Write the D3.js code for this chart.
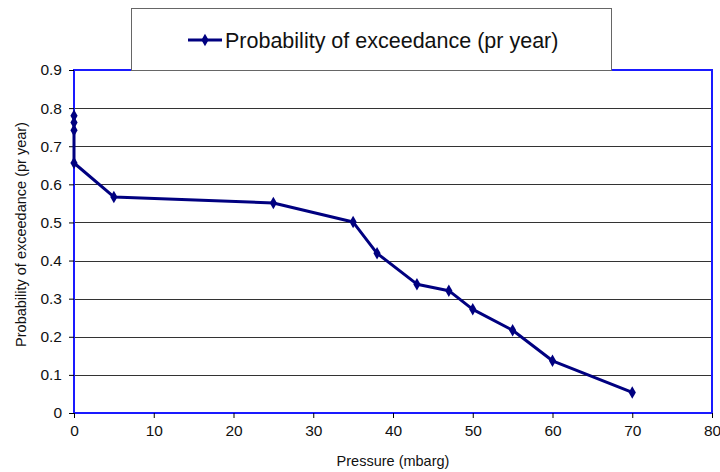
<!DOCTYPE html>
<html>
<head>
<meta charset="utf-8">
<script src="https://cdn.jsdelivr.net/npm/d3@7"></script>
<style>
  html, body { margin: 0; padding: 0; background: #fff; }
  svg { display: block; font-family: Arial, "Liberation Sans", sans-serif; }
</style>
</head>
<body>
<div id="chart"></div>
<script>
// data
const pressure = [0, 0, 0, 0, 5, 25, 35, 38, 43, 47, 50, 55, 60, 70];
const probability = [0.780, 0.762, 0.742, 0.656, 0.567, 0.551, 0.501, 0.419, 0.338, 0.321, 0.272, 0.217, 0.137, 0.054];
const xTicks = [0, 10, 20, 30, 40, 50, 60, 70, 80];
const yTicks = [0, 0.1, 0.2, 0.3, 0.4, 0.5, 0.6, 0.7, 0.8, 0.9];
const seriesName = 'Probability of exceedance (pr year)';
const xTitle = 'Pressure (mbarg)';
const yTitle = 'Probability of exceedance (pr year)';

const width = 720;
const height = 472;
const marginLeft = 74;
const marginRight = 8;
const marginTop = 70;
const marginBottom = 59;
const lineColor = '#000080';
const tickFont = 15.5;

const svg = d3.select('#chart')
  .append('svg')
  .attr('width', width)
  .attr('height', height)
  .attr('viewBox', `0 0 ${width} ${height}`);

const x = d3.scaleLinear()
  .domain([0, 80])
  .range([marginLeft, width - marginRight]);

const y = d3.scaleLinear()
  .domain([0, 0.9])
  .range([height - marginBottom, marginTop]);

// gridlines
svg.append('g')
  .selectAll('line')
  .data(yTicks.filter(d => d > 0 && d < 0.9))
  .enter().append('line')
  .attr('x1', x(0))
  .attr('x2', x(80))
  .attr('y1', d => Math.round(y(d)) + 0.5)
  .attr('y2', d => Math.round(y(d)) + 0.5)
  .attr('stroke', '#333')
  .attr('stroke-width', 1);

// plot border (blue, like the spreadsheet)
svg.append('rect')
  .attr('x', x(0))
  .attr('y', y(0.9))
  .attr('width', x(80) - x(0))
  .attr('height', y(0) - y(0.9))
  .attr('fill', 'none')
  .attr('stroke', '#1a1aff')
  .attr('stroke-width', 2);

// axes
svg.append('g')
  .attr('transform', `translate(0,${y(0)})`)
  .call(d3.axisBottom(x).tickValues(xTicks).tickSize(5).tickPadding(7).tickFormat(d3.format('d')))
  .call(g => g.select('.domain').remove())
  .call(g => g.selectAll('.tick line').attr('stroke', '#000'))
  .call(g => g.selectAll('.tick text').attr('font-size', tickFont).attr('fill', '#111').attr('font-family', 'Arial, "Liberation Sans", sans-serif'));

svg.append('g')
  .attr('transform', `translate(${x(0)},0)`)
  .call(d3.axisLeft(y).tickValues(yTicks).tickSize(5).tickPadding(7).tickFormat(d => d === 0 ? '0' : d3.format('.1f')(d)))
  .call(g => g.select('.domain').remove())
  .call(g => g.selectAll('.tick line').attr('stroke', '#000'))
  .call(g => g.selectAll('.tick text').attr('font-size', tickFont).attr('fill', '#111').attr('font-family', 'Arial, "Liberation Sans", sans-serif'));

// axis titles
svg.append('text')
  .attr('x', (x(0) + x(80)) / 2)
  .attr('y', 466)
  .attr('text-anchor', 'middle')
  .attr('font-size', 14.5)
  .attr('fill', '#111')
  .text(xTitle);

svg.append('text')
  .attr('transform', `translate(26,${(y(0) + y(0.9)) / 2 - 7}) rotate(-90)`)
  .attr('text-anchor', 'middle')
  .attr('font-size', 14.5)
  .attr('fill', '#111')
  .text(yTitle);

// series
const points = pressure.map((p, i) => [p, probability[i]]);

const line = d3.line()
  .x(d => x(d[0]))
  .y(d => y(d[1]));

svg.append('path')
  .datum(points)
  .attr('fill', 'none')
  .attr('stroke', lineColor)
  .attr('stroke-width', 3)
  .attr('stroke-linejoin', 'round')
  .attr('d', line);

const diamond = d3.symbol().type(d3.symbolDiamond).size(45);

svg.append('g')
  .selectAll('path')
  .data(points)
  .enter().append('path')
  .attr('transform', d => `translate(${x(d[0])},${y(d[1])})`)
  .attr('d', diamond)
  .attr('fill', lineColor);

// legend
const legend = svg.append('g');

legend.append('rect')
  .attr('x', 131.5)
  .attr('y', 8.5)
  .attr('width', 480)
  .attr('height', 62)
  .attr('fill', '#fff')
  .attr('stroke', '#666')
  .attr('stroke-width', 1);

legend.append('line')
  .attr('x1', 188)
  .attr('x2', 222)
  .attr('y1', 40)
  .attr('y2', 40)
  .attr('stroke', lineColor)
  .attr('stroke-width', 3);

legend.append('path')
  .attr('transform', 'translate(205,40)')
  .attr('d', diamond)
  .attr('fill', lineColor);

legend.append('text')
  .attr('x', 225)
  .attr('y', 48)
  .attr('font-size', 21.5)
  .attr('fill', '#111')
  .text(seriesName);
</script>
</body>
</html>
